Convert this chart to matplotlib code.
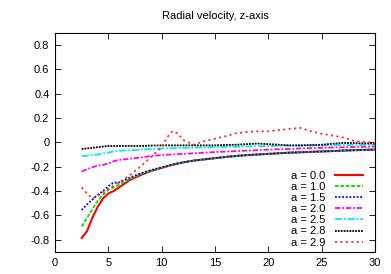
import matplotlib.pyplot as plt

# --- DATOS ---
r = [2.5, 3, 3.5, 4, 4.5, 5, 5.5, 6, 7, 8, 9, 10, 10.5, 11, 11.5, 12, 13, 14, 15,
     16, 17, 18, 19, 20, 21, 22, 23, 24, 25, 26, 27, 28, 29, 30]

v_a00 = [-0.785, -0.73, -0.62, -0.53, -0.46, -0.42, -0.40, -0.37, -0.31, -0.27, -0.235, -0.21,
         -0.197, -0.185, -0.175, -0.165, -0.15, -0.14, -0.13, -0.12, -0.112, -0.105, -0.10, -0.095,
         -0.09, -0.085, -0.082, -0.078, -0.075, -0.072, -0.068, -0.065, -0.062, -0.06]
v_a10 = [-0.69, -0.62, -0.55, -0.48, -0.43, -0.39, -0.37, -0.35, -0.30, -0.262, -0.232, -0.208,
         -0.196, -0.184, -0.174, -0.165, -0.15, -0.14, -0.13, -0.12, -0.112, -0.105, -0.10, -0.095,
         -0.09, -0.085, -0.082, -0.078, -0.075, -0.072, -0.068, -0.065, -0.062, -0.06]
v_a15 = [-0.555, -0.51, -0.47, -0.43, -0.40, -0.36, -0.33, -0.33, -0.29, -0.255, -0.228, -0.205,
         -0.194, -0.183, -0.173, -0.164, -0.15, -0.14, -0.13, -0.12, -0.112, -0.105, -0.10, -0.095,
         -0.09, -0.085, -0.082, -0.078, -0.075, -0.072, -0.068, -0.065, -0.062, -0.06]
v_a20 = [-0.24, -0.22, -0.205, -0.19, -0.185, -0.175, -0.155, -0.145, -0.135, -0.125, -0.113, -0.105,
         -0.102, -0.10, -0.097, -0.095, -0.09, -0.085, -0.08, -0.076, -0.072, -0.068, -0.064, -0.06,
         -0.057, -0.054, -0.051, -0.048, -0.045, -0.043, -0.041, -0.039, -0.037, -0.035]
v_a25 = [-0.115, -0.11, -0.105, -0.10, -0.092, -0.085, -0.075, -0.07, -0.065, -0.06, -0.055, -0.05,
         -0.049, -0.048, -0.047, -0.046, -0.044, -0.042, -0.04, -0.038, -0.036, -0.034, -0.032, -0.03,
         -0.029, -0.028, -0.027, -0.026, -0.025, -0.024, -0.023, -0.022, -0.021, -0.02]
v_a28 = [-0.055, -0.05, -0.045, -0.04, -0.035, -0.03, -0.03, -0.03, -0.03, -0.03, -0.027, -0.025,
         -0.025, -0.025, -0.025, -0.025, -0.025, -0.025, -0.025, -0.022, -0.02, -0.015, -0.01, -0.015,
         -0.02, -0.025, -0.025, -0.022, -0.02, -0.012, -0.005, -0.006, -0.008, -0.01]
v_a29 = [-0.37, -0.42, -0.46, -0.44, -0.41, -0.38, -0.355, -0.33, -0.27, -0.20, -0.12, -0.04,
         0.04, 0.09, 0.075, 0.02, -0.02, 0.01, 0.03, 0.05, 0.075, 0.085, 0.09, 0.09, 0.10, 0.11,
         0.118, 0.09, 0.07, 0.055, 0.04, 0.012, 0.002, -0.005]

etiquetas = ["a = 0.0", "a = 1.0", "a = 1.5", "a = 2.0", "a = 2.5", "a = 2.8", "a = 2.9"]
colores = ["#ff0000", "#00dd00", "#0000ff", "#ff00ff", "#00eeee", "#000000", "#ff3030"]

plt.rcParams['font.family'] = ['Liberation Sans', 'DejaVu Sans']

fig = plt.figure(figsize=(3.91, 2.74), dpi=100)
ax = fig.add_axes([0.1407, 0.0803, 0.8185, 0.8007])

series = [v_a00, v_a10, v_a15, v_a20, v_a25, v_a28, v_a29]
estilos = ['-', (0, (2, 1)), (0, (1, 1)), (0, (3, 1, 1, 1)), (0, (4, 1, 1, 1)), (0, (1, 0.6)), (0, (1.2, 1.8))]
for vals, lab, col, ls in zip(series, etiquetas, colores, estilos):
    ax.plot(r, vals, color=col, linestyle=ls, linewidth=1.5 if ls == '-' else 1.3, label=lab)

ax.set_xlim(0, 30)
ax.set_ylim(-0.9, 0.9)
ax.set_xticks([0, 5, 10, 15, 20, 25, 30])
ax.set_yticks([-0.8, -0.6, -0.4, -0.2, 0, 0.2, 0.4, 0.6, 0.8])
ax.set_yticklabels(['-0.8', '-0.6', '-0.4', '-0.2', '0', '0.2', '0.4', '0.6', '0.8'])
ax.tick_params(direction='in', top=True, right=True, labelsize=8, length=4, width=0.6, pad=4)
for s in ax.spines.values():
    s.set_linewidth(0.8)

ax.set_title("Radial velocity, z-axis", fontsize=8, pad=10)

ax.legend(loc='lower right', bbox_to_anchor=(0.988, -0.015), frameon=False, fontsize=8,
          markerfirst=False, labelspacing=0.1, handlelength=2.6, handletextpad=0.8,
          borderpad=0.2)

plt.savefig("out.png", dpi=100)
